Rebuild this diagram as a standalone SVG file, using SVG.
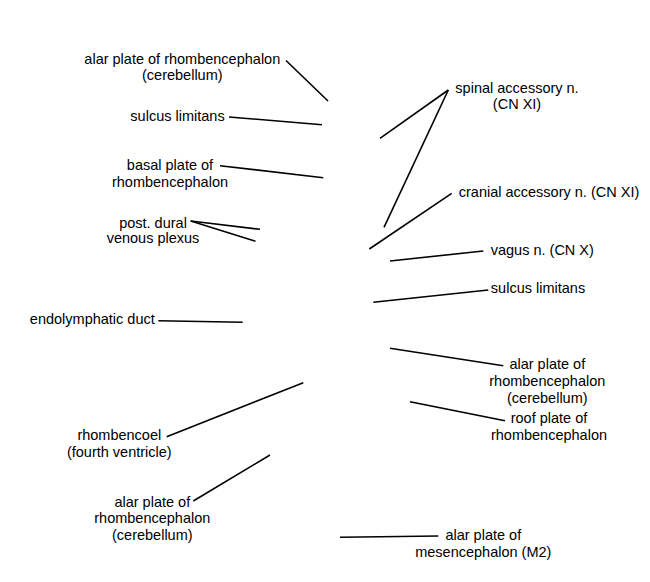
<svg xmlns="http://www.w3.org/2000/svg" width="650" height="582" viewBox="0 0 650 582">
<style>
text{font-family:"Liberation Sans",Arial,sans-serif;font-size:14.5px;fill:#000;text-anchor:middle}
.c line{stroke:#000;stroke-width:1.6;stroke-linecap:butt}
</style>
<rect width="650" height="582" fill="#fff"/>
<g id="connectors" class="c">
<line x1="286" y1="60.5" x2="328" y2="101"/>
<line x1="229" y1="117" x2="322" y2="124.7"/>
<line x1="220" y1="165.7" x2="323.3" y2="177.7"/>
<line x1="190.7" y1="221" x2="260" y2="229.3"/>
<line x1="190.7" y1="221" x2="255.5" y2="241.3"/>
<line x1="448.3" y1="90" x2="380" y2="138.3"/>
<line x1="448.3" y1="90" x2="384" y2="227.3"/>
<line x1="451.7" y1="193.3" x2="369.3" y2="249"/>
<line x1="483.3" y1="251" x2="390" y2="261"/>
<line x1="488.3" y1="290" x2="373.3" y2="302.3"/>
<line x1="158.3" y1="320.7" x2="242.7" y2="322.3"/>
<line x1="303.3" y1="382.7" x2="166.7" y2="436.7"/>
<line x1="193.3" y1="501" x2="270" y2="455"/>
<line x1="390" y1="348.3" x2="503.3" y2="365.7"/>
<line x1="410" y1="401.7" x2="505" y2="420.7"/>
<line x1="340" y1="537.3" x2="438.3" y2="536"/>
</g>
<g id="n-alar-top"><text x="182.3" y="64">alar plate of rhombencephalon</text><text x="182.3" y="80">(cerebellum)</text></g>
<g id="n-sulcus-left"><text x="177.5" y="120.7">sulcus limitans</text></g>
<g id="n-basal"><text x="170" y="170">basal plate of</text><text x="170" y="186.7">rhombencephalon</text></g>
<g id="n-dural"><text x="153" y="227.5">post. dural</text><text x="153" y="242.5">venous plexus</text></g>
<g id="n-spinal"><text x="517" y="92.7">spinal accessory n.</text><text x="517" y="109.3">(CN XI)</text></g>
<g id="n-cranial"><text x="549" y="196.7">cranial accessory n. (CN XI)</text></g>
<g id="n-vagus"><text x="542.3" y="255">vagus n. (CN X)</text></g>
<g id="n-sulcus-right"><text x="538" y="292.7">sulcus limitans</text></g>
<g id="n-endolymph"><text x="92.3" y="324">endolymphatic duct</text></g>
<g id="n-rhombencoel"><text x="119.3" y="440">rhombencoel</text><text x="119.3" y="456.7">(fourth ventricle)</text></g>
<g id="n-alar-bottom-left"><text x="152.3" y="506.7">alar plate of</text><text x="152.3" y="523.3">rhombencephalon</text><text x="152.3" y="540">(cerebellum)</text></g>
<g id="n-alar-right"><text x="547.3" y="369.3">alar plate of</text><text x="547.3" y="386">rhombencephalon</text><text x="547.3" y="402.7">(cerebellum)</text></g>
<g id="n-roof"><text x="549" y="423.3">roof plate of</text><text x="549" y="440">rhombencephalon</text></g>
<g id="n-mesenceph"><text x="483.3" y="540">alar plate of</text><text x="483.3" y="556.7">mesencephalon (M2)</text></g>
</svg>
